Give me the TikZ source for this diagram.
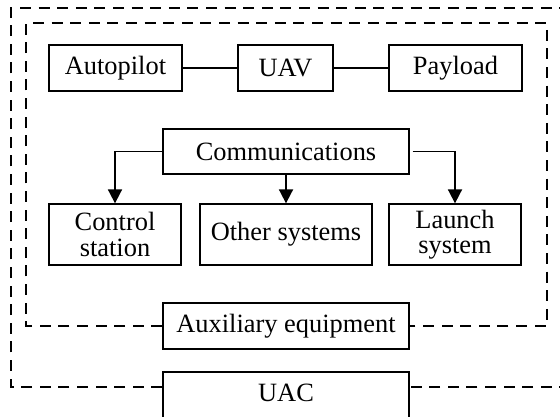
\documentclass[tikz,border=0pt]{standalone}
\usepackage{fontspec}
\setmainfont{Liberation Serif}
\usetikzlibrary{arrows.meta,calc}
\begin{document}
\begin{tikzpicture}[x=0.5pt,y=-0.5pt,
  box/.style={draw,line width=0.65pt,inner sep=0pt,align=center,
    font=\fontsize{13.2}{12.6}\selectfont},
  frame/.style={line width=0.9pt,dash pattern=on 5.5pt off 3.8pt},
  link/.style={line width=0.65pt},
  arr/.style={line width=0.9pt,-{Triangle[width=7pt,length=7pt]}}]
\useasboundingbox (0,0) rectangle (560,416);
\clip (0,0) rectangle (560,416);
\node[box,minimum width=66.5pt,minimum height=23pt] (ap) at (115.5,68) {Autopilot};
\node[box,minimum width=47.5pt,minimum height=23pt] (uav) at (285.5,68) {UAV};
\node[box,minimum width=66.5pt,minimum height=23pt] (pl) at (455.5,68) {Payload};
\node[box,minimum width=123pt,minimum height=22.5pt] (com) at (286,151.5) {Communications};
\node[box,minimum width=66pt,minimum height=30.5pt] (cs) at (115,234.5) {Control\\station};
\node[box,minimum width=86pt,minimum height=30.5pt] (os) at (286,234.5) {Other systems};
\node[box,minimum width=66pt,minimum height=30.5pt] (ls) at (455,234.5) {Launch\\system};
\node[box,minimum width=123pt,minimum height=23pt] (aux) at (286,326) {Auxiliary equipment};
\node[box,minimum width=123pt,minimum height=46pt,text depth=0pt] (uac) at (286,418) {};
\node[font=\fontsize{13.2}{12.6}\selectfont] (uact) at (286,393) {UAC};
\draw[link] (ap) -- (uav);
\draw[link] (uav) -- (pl);
\draw[arr] (com.west) -| (cs.north);
\draw[arr] (com.south -| os.north) -- (os.north);
\draw[arr] ([xshift=1.5pt]com.east) -| (ls.north);
\draw[frame] (aux.west) -- (26,326) -- (26,23) -- (547,23) -- (547,326) -- (aux.east);
\coordinate (ob) at (0,387);
\draw[frame] (uac.west |- ob) -- (11,387) -- (11,8) -- (580,8) -- (580,387) -- (uac.east |- ob);
\end{tikzpicture}
\end{document}
